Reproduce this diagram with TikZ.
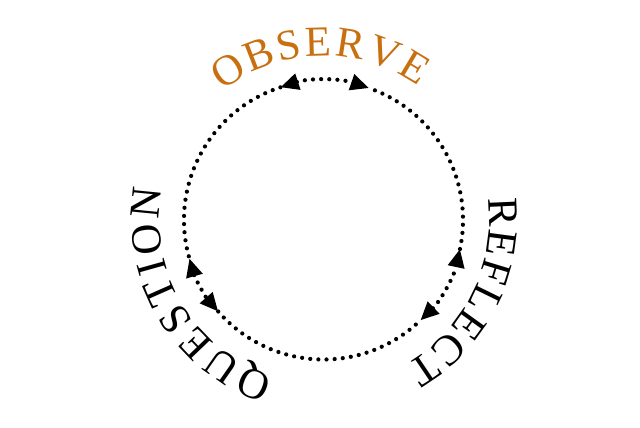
\documentclass[tikz,border=0pt]{standalone}
\usepackage{xcolor}
\usepackage{fontspec}
\setmainfont{Liberation Serif}
\usepackage{tikz}
\usetikzlibrary{arrows.meta,decorations.text,calc}
\definecolor{obsorange}{RGB}{200,112,16}
\tikzstyle{ring} = [line width=3pt, line cap=round, dash pattern=on 0pt off 5.8pt]
\tikzstyle{ringarrow} = [ring, <->]
\tikzstyle{arcword} = [decorate, decoration={text along path, text align={fit to path}}]
\newcommand{\wordfont}{\fontsize{30.5}{34}\selectfont}

\begin{document}
\begin{tikzpicture}[>={Triangle[length=0.46cm, width=0.4cm]}]
    \useasboundingbox (-8.0875,-5.175) rectangle (7.9125,5.5);
    \coordinate (c) at (0,0);

    % dotted ring, split where the arrows sit
    \draw[ringarrow] (c) ++(108:3.4875) arc[start angle=108, end angle=71, radius=3.4875];
    \draw[ring] (c) ++(108:3.4875) arc[start angle=108, end angle=196, radius=3.4875];
    \draw[ringarrow] (c) ++(196:3.4875) arc[start angle=196, end angle=221, radius=3.4875];
    \draw[ring] (c) ++(221:3.4875) arc[start angle=221, end angle=314, radius=3.4875];
    \draw[ringarrow] (c) ++(314:3.4875) arc[start angle=314, end angle=348, radius=3.4875];
    \draw[ring] (c) ++(348:3.4875) arc[start angle=348, end angle=431, radius=3.4875];

    % words round the ring
    \path[arcword, decoration={text={|\wordfont\color{obsorange}|OBSERVE}}]
        (c) ++(128:4.1) arc[start angle=128, end angle=54.5, radius=4.1];
    \path[arcword, decoration={text={|\wordfont|REFLECT}}]
        (c) ++(7.5:4.15) arc[start angle=7.5, end angle=-60.5, radius=4.15];
    \path[arcword, decoration={text={|\wordfont|QUESTION}}]
        (c) ++(252.5:4.1) arc[start angle=252.5, end angle=169, radius=4.1];
\end{tikzpicture}
\end{document}
